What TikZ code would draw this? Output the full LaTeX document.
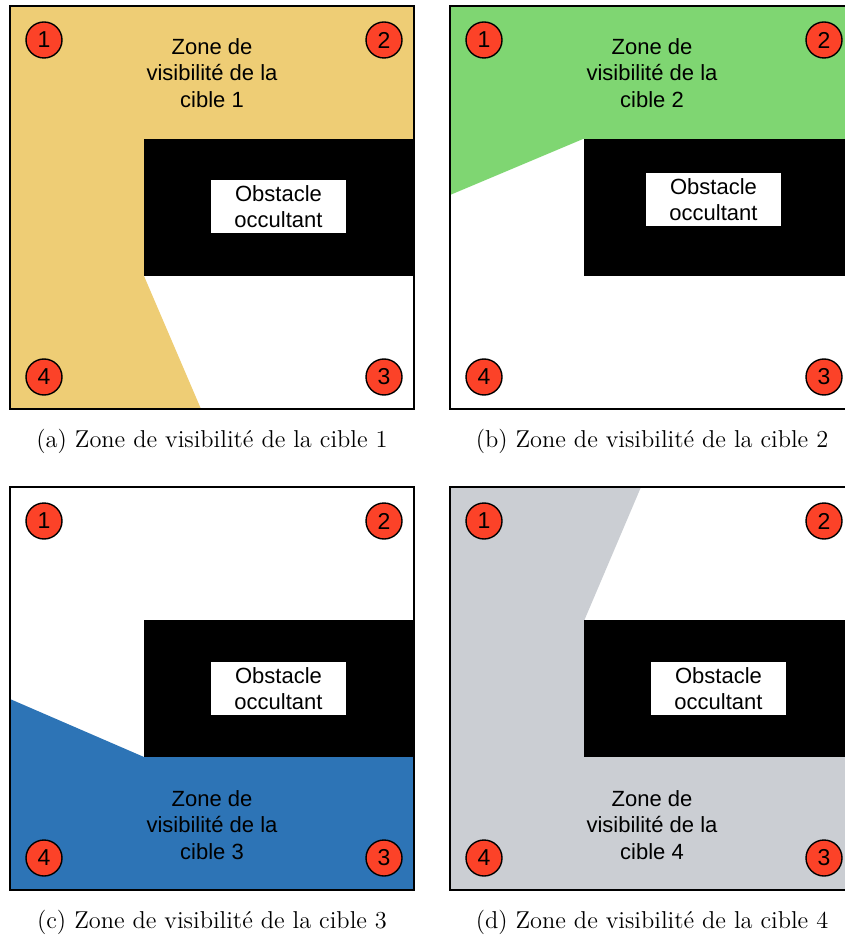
\documentclass[tikz,border=0pt]{standalone}
\usepackage{fontspec}
\newfontfamily\helv{Liberation Sans}
\usepackage{tikz}
\usetikzlibrary{positioning}
\definecolor{zoneA}{RGB}{238,205,117}
\definecolor{zoneB}{RGB}{127,214,114}
\definecolor{zoneC}{RGB}{45,116,182}
\definecolor{zoneD}{RGB}{203,206,211}
\definecolor{rouge}{RGB}{252,66,40}

\begin{document}
\begin{tikzpicture}[x=0.5pt,y=-0.5pt,
  cadre/.style={draw=black,line width=0.9pt},
  cible/.style={circle,draw=black,line width=0.7pt,fill=rouge,minimum size=18pt,
    inner sep=0pt,font=\helv\fontsize{11.5}{11.5}\selectfont},
  zonetxt/.style={font=\helv\fontsize{11}{13.25}\selectfont,align=center,inner sep=0pt},
  etiquette/.style={fill=white,minimum width=67.5pt,minimum height=26.5pt,inner sep=0pt,
    align=center,font=\helv\fontsize{11}{13}\selectfont},
  legende/.style={font=\fontsize{12.2}{14}\selectfont,inner sep=0pt}]
  \useasboundingbox (0,0) rectangle (844,940);
  % zones de visibilite
  \fill[zoneA] (10,6) -- (414,6) -- (414,139) -- (144,139) -- (144,276) -- (201,409) -- (10,409) -- cycle;
  \fill[zoneB] (450,6) -- (854,6) -- (854,139) -- (583,139) -- (450,195) -- cycle;
  \fill[zoneC] (10,699) -- (144,757) -- (414,757) -- (414,890) -- (10,890) -- cycle;
  \fill[zoneD] (450,487) -- (641,487) -- (584,621) -- (584,757) -- (854,757) -- (854,890) -- (450,890) -- cycle;
  % panneaux
  \foreach \p/\ox/\oy/\ex/\ey/\zy/\c in {a/10/6/268.5/200.5/67/1, b/450/6/263.5/193.5/67/2,
      c/10/487/268.5/201.5/338/3, d/450/487/268.5/201.5/338/4}{
    \begin{scope}[shift={(\ox,\oy)}]
      \fill[black] (134,133) rectangle (404,270);
      \node[etiquette] (\p-obst) at (\ex,\ey) {Obstacle\\occultant};
      \node[zonetxt] (\p-zone) at (202,\zy) {Zone de\\visibilit\'e de la\\cible \c};
      \foreach \n/\x/\y in {1/34/34, 2/374/34, 3/374/371, 4/34/371}
        \node[cible] (\p\n) at (\x,\y) {\n};
      \draw[cadre] (0,0) rectangle (404,403);
      \node[legende] (\p-leg) at (202,435) {(\p)\ Zone de visibilit\'e de la cible \c};
    \end{scope}
  }
\end{tikzpicture}
\end{document}
